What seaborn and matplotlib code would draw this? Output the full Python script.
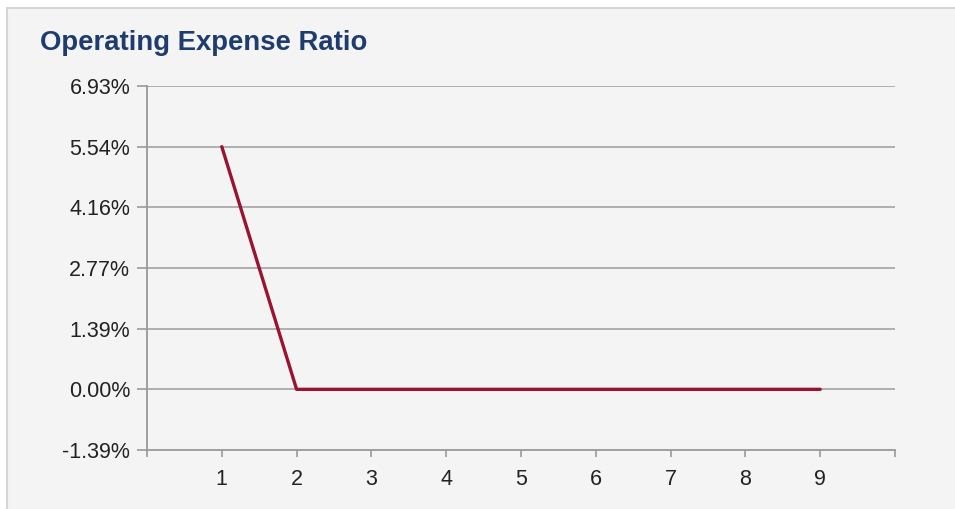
import numpy as np
import pandas as pd
import matplotlib
matplotlib.use("Agg")
import matplotlib.pyplot as plt
from matplotlib.patches import Rectangle
import seaborn as sns

# data
periods = [1, 2, 3, 4, 5, 6, 7, 8, 9]
expense_ratio = [5.544, 0.0, 0.0, 0.0, 0.0, 0.0, 0.0, 0.0, 0.0]
y_ticks = [-1.386, 0.0, 1.386, 2.772, 4.158, 5.544, 6.93]
x_ticks = [0, 1, 2, 3, 4, 5, 6, 7, 8, 9, 10]
x_labels = ["", "1", "2", "3", "4", "5", "6", "7", "8", "9", ""]
title = "Operating Expense Ratio"

df = pd.DataFrame({"period": periods, "ratio": expense_ratio})

sns.set_theme(style="white")
plt.rcParams["font.family"] = ["Liberation Sans", "DejaVu Sans"]

W, H = 955, 509
fig = plt.figure(figsize=(W / 100, H / 100), dpi=100)
fig.patch.set_facecolor("white")

# panel background with thin border (behind the axes)
panel = Rectangle((7 / W, -0.01), 1.0, 1 - 8 / H + 0.01, transform=fig.transFigure,
                  facecolor="#f4f4f4", edgecolor="#d6d6d6", lw=1.5, zorder=-10)
fig.patches.append(panel)

ax = fig.add_axes([147 / W, 59 / H, 748 / W, 364 / H])
ax.set_facecolor("none")

for yv in y_ticks[1:]:
    ax.axhline(yv, color="#a3a3a3", lw=1.2, zorder=1)

sns.lineplot(data=df, x="period", y="ratio", ax=ax, color="#9a1432", lw=2.4,
             zorder=3, legend=False)

ax.set_xlim(0, 10)
ax.set_ylim(y_ticks[0], y_ticks[-1])
ax.set_xticks(x_ticks)
ax.set_xticklabels(x_labels)
ax.set_yticks(y_ticks)
ax.set_yticklabels([f"{v:.2f}%" for v in y_ticks])
ax.set_xlabel("")
ax.set_ylabel("")

for side in ["top", "right"]:
    ax.spines[side].set_visible(False)
for side in ["left", "bottom"]:
    ax.spines[side].set_color("#999999")
    ax.spines[side].set_linewidth(1.3)

ax.tick_params(axis="y", direction="out", length=7, width=1.2, color="#999999",
               labelsize=15.5, labelcolor="#222222", pad=5, left=True)
ax.tick_params(axis="x", direction="out", length=5, width=1.2, color="#999999",
               labelsize=15.5, labelcolor="#222222", pad=9, bottom=True)

fig.text(40 / W, 1 - 50 / H, title, fontsize=19.8, fontweight="bold",
         color="#1f3c6e", ha="left", va="baseline")

fig.savefig("out.png", dpi=100)
